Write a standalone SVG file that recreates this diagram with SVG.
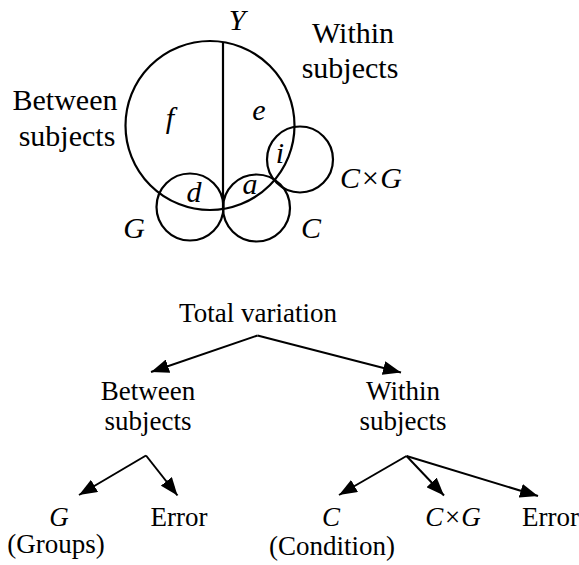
<svg xmlns="http://www.w3.org/2000/svg" width="579" height="565" viewBox="0 0 579 565">
<style>
.c{fill:none;stroke:#000;stroke-width:2.2}
.l{fill:none;stroke:#000;stroke-width:2}
text{font-family:'Liberation Serif','DejaVu Serif',serif;fill:#000;text-anchor:middle}
.t{font-size:30px}
.it{font-size:30px;font-style:italic}
.tt{font-size:27px}
.ti{font-size:27px;font-style:italic}
</style>
<defs>
<marker id="ah" markerUnits="userSpaceOnUse" markerWidth="18" markerHeight="14" refX="18" refY="7" orient="auto">
<path d="M0,0 L18,7 L0,14 z" fill="#000"/>
</marker>
</defs>
<g id="venn">
<circle id="Y" class="c" cx="210" cy="125.5" r="84.5"/>
<line class="c" x1="223" y1="42" x2="223" y2="209"/>
<circle id="Gc" class="c" cx="190" cy="207" r="33.5"/>
<circle id="Cc" class="c" cx="256.5" cy="208" r="33.5"/>
<circle id="CGc" class="c" cx="300" cy="159.5" r="33"/>
<text class="it" x="237" y="30">Y</text>
<text class="t" x="353" y="43">Within</text>
<text class="t" x="350" y="78">subjects</text>
<text class="t" x="65" y="110">Between</text>
<text class="t" x="67" y="146">subjects</text>
<text class="it" x="170" y="128">f</text>
<text class="it" x="259" y="120">e</text>
<text class="it" x="280" y="163">i</text>
<text class="it" x="194" y="202">d</text>
<text class="it" x="250" y="194">a</text>
<text class="it" x="134" y="238">G</text>
<text class="it" x="311" y="238">C</text>
<text class="it" x="340" y="188" style="text-anchor:start">C×G</text>
</g>
<g id="total"><text class="tt" x="258" y="322">Total variation</text></g>
<g id="between"><text class="tt" x="148" y="400">Between</text><text class="tt" x="148" y="430">subjects</text></g>
<g id="within"><text class="tt" x="403" y="400">Within</text><text class="tt" x="403" y="430">subjects</text></g>
<g id="groups"><text class="ti" x="59" y="526">G</text><text class="tt" x="56" y="553">(Groups)</text></g>
<g id="error1"><text class="tt" x="179" y="526">Error</text></g>
<g id="condition"><text class="ti" x="331" y="526">C</text><text class="tt" x="332" y="555">(Condition)</text></g>
<g id="cxg"><text class="ti" x="453" y="526">C×G</text></g>
<g id="error2"><text class="tt" x="522" y="526" style="text-anchor:start">Error</text></g>
<g id="connectors">
<path class="l" d="M257.5,335.5 L151,372" marker-end="url(#ah)"/>
<path class="l" d="M257.5,335.5 L401,372.5" marker-end="url(#ah)"/>
<path class="l" d="M146,455.5 L79,495" marker-end="url(#ah)"/>
<path class="l" d="M146,455.5 L177.5,495.5" marker-end="url(#ah)"/>
<path class="l" d="M406.5,456 L339,495" marker-end="url(#ah)"/>
<path class="l" d="M406.5,456 L444,495.5" marker-end="url(#ah)"/>
<path class="l" d="M406.5,456 L538,496" marker-end="url(#ah)"/>
</g>
</svg>
